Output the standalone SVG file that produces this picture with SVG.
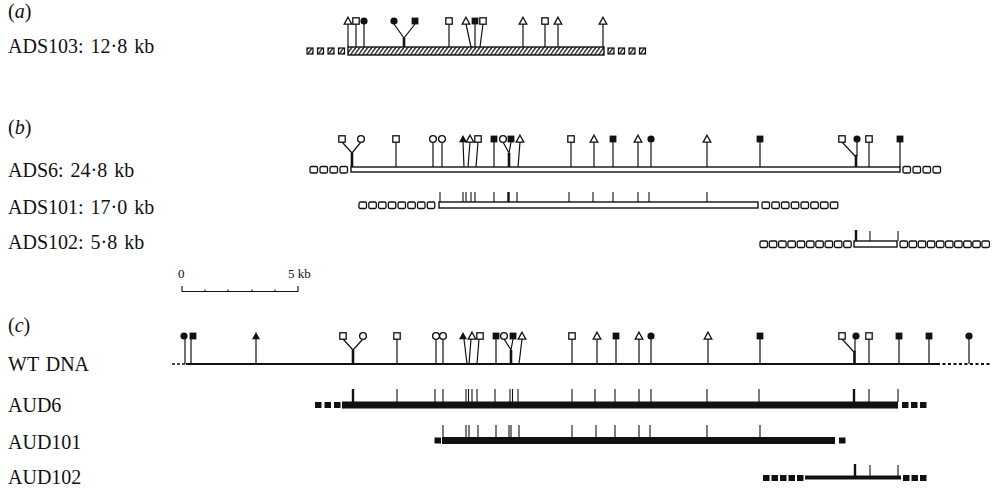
<svg xmlns="http://www.w3.org/2000/svg" xmlns:xlink="http://www.w3.org/1999/xlink" width="992" height="489" viewBox="0 0 992 489">
<style>
text{font-family:"Liberation Serif","Times New Roman",serif;fill:#111;font-size:20px;word-spacing:2px}
.it{font-style:italic}
.sm{font-size:13px;word-spacing:0}
.st{stroke:#111;stroke-width:1.2;fill:none}
.th{stroke:#111;stroke-width:2.6;fill:none}
.tk{stroke:#111;stroke-width:1.1}
.tkb{stroke:#111;stroke-width:2.4}
.ob{fill:#fff;stroke:#111;stroke-width:1.4}
.hb{fill:url(#hatch);stroke:#111;stroke-width:1.4}
.fsq{fill:#111}
</style>
<defs>
<pattern id="hatch" patternUnits="userSpaceOnUse" width="4" height="8" patternTransform="skewX(-35)">
<rect width="4" height="8" fill="#fff"/>
<line x1="1" y1="0" x2="1" y2="8" stroke="#111" stroke-width="1.6"/>
</pattern>
<g id="sqO"><rect x="-3.2" y="-3.2" width="6.4" height="6.4" fill="#fff" stroke="#111" stroke-width="1.3"/></g>
<g id="sqF"><rect x="-3.4" y="-3.4" width="6.8" height="6.8" fill="#111"/></g>
<g id="ciO"><circle r="3.4" fill="#fff" stroke="#111" stroke-width="1.3"/></g>
<g id="ciF"><circle r="3.6" fill="#111"/></g>
<g id="trO"><polygon points="0,-3.8 3.8,3.1 -3.8,3.1" fill="#fff" stroke="#111" stroke-width="1.3"/></g>
<g id="trF"><polygon points="0,-4 4,3.3 -4,3.3" fill="#111"/></g>
<g id="hsq"><rect x="0" y="0" width="6" height="6" fill="url(#hatch)" stroke="#111" stroke-width="1.2"/></g>
<g id="oq"><rect x="0" y="0" width="7.5" height="6.5" rx="1.5" fill="#fff" stroke="#111" stroke-width="1.3"/></g>
<g id="fq"><rect x="0" y="0" width="6.5" height="6" fill="#111"/></g>
</defs>

<g id="labels">
<text x="8" y="18"><tspan>(</tspan><tspan class="it">a</tspan><tspan>)</tspan></text>
<text x="8" y="53">ADS103: 12·8 kb</text>
<text x="8" y="134"><tspan>(</tspan><tspan class="it">b</tspan><tspan>)</tspan></text>
<text x="8" y="177">ADS6: 24·8 kb</text>
<text x="8" y="214">ADS101: 17·0 kb</text>
<text x="8" y="249">ADS102: 5·8 kb</text>
<text x="8" y="332"><tspan>(</tspan><tspan class="it">c</tspan><tspan>)</tspan></text>
<text x="8" y="371">WT DNA</text>
<text x="8" y="412">AUD6</text>
<text x="8" y="449">AUD101</text>
<text x="8" y="484">AUD102</text>
</g>

<g id="ADS103">
<use href="#hsq" x="307" y="48"/><use href="#hsq" x="317.5" y="48"/><use href="#hsq" x="328" y="48"/><use href="#hsq" x="338.5" y="48"/>
<rect class="hb" x="348" y="47" width="256" height="8"/>
<use href="#hsq" x="608" y="48"/><use href="#hsq" x="618.5" y="48"/><use href="#hsq" x="629" y="48"/><use href="#hsq" x="639.5" y="48"/>
</g>
<g id="connectors-a">
<line class="st" x1="348" y1="24" x2="348" y2="47"/>
<line class="st" x1="356" y1="24" x2="356" y2="47"/>
<line class="st" x1="364" y1="24" x2="364" y2="47"/>
<polyline class="st" points="394,24 404,38 415,24"/>
<line class="th" x1="404" y1="38" x2="404" y2="47"/>
<line class="st" x1="449" y1="24" x2="449" y2="47"/>
<line class="st" x1="466" y1="24" x2="471" y2="47"/>
<line class="st" x1="475" y1="24" x2="475" y2="47"/>
<line class="st" x1="483" y1="24" x2="480" y2="47"/>
<line class="st" x1="523" y1="24" x2="523" y2="47"/>
<line class="st" x1="545" y1="24" x2="545" y2="47"/>
<line class="st" x1="558" y1="24" x2="558" y2="47"/>
<line class="st" x1="603" y1="24" x2="603" y2="47"/>
</g>
<g id="sites-a">
<use href="#trO" x="348" y="21"/><use href="#sqO" x="356" y="21"/><use href="#ciF" x="364" y="21"/>
<use href="#ciF" x="394" y="21"/><use href="#sqF" x="415" y="21"/>
<use href="#sqO" x="449" y="21"/><use href="#trO" x="466" y="21"/><use href="#sqF" x="475" y="21"/><use href="#sqO" x="483" y="21"/>
<use href="#trO" x="523" y="21"/><use href="#sqO" x="545" y="21"/><use href="#trO" x="558" y="21"/><use href="#trO" x="603" y="21"/>
</g>

<g id="ADS6">
<use href="#oq" x="310" y="166.5"/><use href="#oq" x="320" y="166.5"/><use href="#oq" x="330" y="166.5"/><use href="#oq" x="340" y="166.5"/>
<rect class="ob" x="351" y="167" width="549" height="5"/>
<use href="#oq" x="903" y="166.5"/><use href="#oq" x="913" y="166.5"/><use href="#oq" x="923" y="166.5"/><use href="#oq" x="933" y="166.5"/>
</g>
<g id="connectors-b">
<polyline class="st" points="342,142 352,153 361,142"/>
<line class="th" x1="352" y1="153" x2="352" y2="167"/>
<line class="st" x1="396" y1="142" x2="396" y2="167"/>
<line class="st" x1="433" y1="142" x2="433" y2="167"/>
<line class="st" x1="442" y1="142" x2="442" y2="167"/>
<line class="st" x1="463" y1="142" x2="464" y2="167"/>
<line class="st" x1="470" y1="142" x2="468" y2="167"/>
<line class="st" x1="478" y1="142" x2="476" y2="167"/>
<line class="st" x1="494" y1="142" x2="494" y2="167"/>
<polyline class="st" points="503,142 509,153 511,142"/>
<line class="th" x1="509" y1="153" x2="509" y2="167"/>
<line class="st" x1="520" y1="142" x2="518" y2="167"/>
<line class="st" x1="571" y1="142" x2="571" y2="167"/>
<line class="st" x1="594" y1="142" x2="594" y2="167"/>
<line class="st" x1="613" y1="142" x2="613" y2="167"/>
<line class="st" x1="638" y1="142" x2="638" y2="167"/>
<line class="st" x1="651" y1="142" x2="651" y2="167"/>
<line class="st" x1="707" y1="142" x2="707" y2="167"/>
<line class="st" x1="760" y1="142" x2="760" y2="167"/>
<line class="st" x1="842" y1="142" x2="855" y2="156"/>
<line class="st" x1="857" y1="142" x2="857" y2="156"/>
<line class="th" x1="856" y1="155" x2="856" y2="167"/>
<line class="st" x1="869" y1="142" x2="869" y2="167"/>
<line class="st" x1="900" y1="142" x2="900" y2="167"/>
</g>
<g id="sites-b">
<use href="#sqO" x="342" y="139"/><use href="#ciO" x="361" y="139"/>
<use href="#sqO" x="396" y="139"/><use href="#ciO" x="433" y="139"/><use href="#ciO" x="442" y="139"/>
<use href="#trF" x="463" y="139"/><use href="#trO" x="470" y="139"/><use href="#sqO" x="478" y="139"/>
<use href="#sqF" x="494" y="139"/><use href="#ciO" x="503" y="139"/><use href="#sqF" x="511" y="139"/><use href="#trO" x="520" y="139"/>
<use href="#sqO" x="571" y="139"/><use href="#trO" x="594" y="139"/><use href="#sqF" x="613" y="139"/>
<use href="#trO" x="638" y="139"/><use href="#ciF" x="651" y="139"/><use href="#trO" x="707" y="139"/><use href="#sqF" x="760" y="139"/>
<use href="#sqO" x="842" y="139"/><use href="#ciF" x="857" y="139"/><use href="#sqO" x="869" y="139"/><use href="#sqF" x="900" y="139"/>
</g>

<g id="ADS101">
<use href="#oq" x="359" y="202"/><use href="#oq" x="368.8" y="202"/><use href="#oq" x="378.5" y="202"/><use href="#oq" x="388.3" y="202"/>
<use href="#oq" x="398" y="202"/><use href="#oq" x="407.8" y="202"/><use href="#oq" x="417.5" y="202"/><use href="#oq" x="427.3" y="202"/>
<rect class="ob" x="439" y="202" width="319" height="6"/>
<use href="#oq" x="762" y="202"/><use href="#oq" x="771.8" y="202"/><use href="#oq" x="781.5" y="202"/><use href="#oq" x="791.3" y="202"/>
<use href="#oq" x="801" y="202"/><use href="#oq" x="810.8" y="202"/><use href="#oq" x="820.5" y="202"/><use href="#oq" x="830.3" y="202"/>
<g class="tk">
<line x1="440" y1="192" x2="440" y2="202"/><line x1="463" y1="192" x2="463" y2="202"/><line x1="466" y1="192" x2="466" y2="202"/>
<line x1="471" y1="192" x2="471" y2="202"/><line x1="475" y1="192" x2="475" y2="202"/><line x1="494" y1="192" x2="494" y2="202"/>
<line x1="517" y1="192" x2="517" y2="202"/><line x1="569" y1="192" x2="569" y2="202"/><line x1="593" y1="192" x2="593" y2="202"/>
<line x1="613" y1="192" x2="613" y2="202"/><line x1="638" y1="192" x2="638" y2="202"/><line x1="649" y1="192" x2="649" y2="202"/>
<line x1="707" y1="192" x2="707" y2="202"/>
</g>
<line class="tkb" x1="508.5" y1="192" x2="508.5" y2="202"/>
</g>

<g id="ADS102">
<use href="#oq" x="760" y="241"/><use href="#oq" x="769.3" y="241"/><use href="#oq" x="778.6" y="241"/><use href="#oq" x="787.9" y="241"/><use href="#oq" x="797.2" y="241"/>
<use href="#oq" x="806.5" y="241"/><use href="#oq" x="815.8" y="241"/><use href="#oq" x="825.1" y="241"/><use href="#oq" x="834.4" y="241"/><use href="#oq" x="843.7" y="241"/>
<rect class="ob" x="854" y="241" width="43" height="6"/>
<use href="#oq" x="900" y="241"/><use href="#oq" x="909.1" y="241"/><use href="#oq" x="918.2" y="241"/><use href="#oq" x="927.3" y="241"/><use href="#oq" x="936.4" y="241"/>
<use href="#oq" x="945.5" y="241"/><use href="#oq" x="954.6" y="241"/><use href="#oq" x="963.7" y="241"/><use href="#oq" x="972.8" y="241"/><use href="#oq" x="981.9" y="241"/>
<line class="tkb" x1="856" y1="230" x2="856" y2="241"/>
<line class="tk" x1="870" y1="231" x2="870" y2="241"/>
<line class="tk" x1="898" y1="231" x2="898" y2="241"/>
</g>

<g id="scale">
<text class="sm" x="178" y="278">0</text>
<text class="sm" x="288" y="278">5 kb</text>
<line class="tk" x1="182" y1="291.5" x2="298" y2="291.5"/>
<line class="tk" x1="182" y1="286" x2="182" y2="292"/>
<line class="tk" x1="298" y1="286" x2="298" y2="292"/>
<line class="tk" x1="205" y1="289.5" x2="205" y2="292"/>
<line class="tk" x1="228" y1="289.5" x2="228" y2="292"/>
<line class="tk" x1="252" y1="289.5" x2="252" y2="292"/>
<line class="tk" x1="275" y1="289.5" x2="275" y2="292"/>
</g>

<g id="WT">
<line x1="172" y1="364" x2="186" y2="364" stroke="#111" stroke-width="1.6" stroke-dasharray="3,2"/>
<line x1="186" y1="364" x2="937" y2="364" stroke="#111" stroke-width="2"/>
<line x1="937" y1="364" x2="991" y2="364" stroke="#111" stroke-width="1.8" stroke-dasharray="3,2.5"/>
</g>
<g id="connectors-c">
<line class="st" x1="185" y1="339" x2="185" y2="364"/>
<line class="st" x1="191" y1="339" x2="191" y2="364"/>
<line class="st" x1="256" y1="339" x2="256" y2="364"/>
<polyline class="st" points="343,339 353,350 363,339"/>
<line class="th" x1="353" y1="350" x2="353" y2="364"/>
<line class="st" x1="397" y1="339" x2="397" y2="364"/>
<line class="st" x1="436" y1="339" x2="436" y2="364"/>
<line class="st" x1="443" y1="339" x2="443" y2="364"/>
<line class="st" x1="464" y1="339" x2="467" y2="364"/>
<line class="st" x1="471" y1="339" x2="469" y2="364"/>
<line class="st" x1="479" y1="339" x2="477" y2="364"/>
<line class="st" x1="496" y1="339" x2="496" y2="364"/>
<polyline class="st" points="504,339 511,350 513,339"/>
<line class="th" x1="511" y1="350" x2="511" y2="364"/>
<line class="st" x1="522" y1="339" x2="519" y2="364"/>
<line class="st" x1="572" y1="339" x2="572" y2="364"/>
<line class="st" x1="597" y1="339" x2="597" y2="364"/>
<line class="st" x1="616" y1="339" x2="616" y2="364"/>
<line class="st" x1="639" y1="339" x2="639" y2="364"/>
<line class="st" x1="651" y1="339" x2="651" y2="364"/>
<line class="st" x1="708" y1="339" x2="708" y2="364"/>
<line class="st" x1="760" y1="339" x2="760" y2="364"/>
<line class="st" x1="842" y1="339" x2="854" y2="352"/>
<line class="st" x1="855" y1="339" x2="855" y2="352"/>
<line class="th" x1="854.5" y1="351" x2="854.5" y2="364"/>
<line class="st" x1="869" y1="339" x2="869" y2="364"/>
<line class="st" x1="899" y1="339" x2="899" y2="364"/>
<line class="st" x1="929" y1="339" x2="929" y2="364"/>
<line class="st" x1="969" y1="339" x2="969" y2="364"/>
</g>
<g id="sites-c">
<use href="#ciF" x="184" y="336"/><use href="#sqF" x="193" y="336"/><use href="#trF" x="256" y="336"/>
<use href="#sqO" x="343" y="336"/><use href="#ciO" x="363" y="336"/><use href="#sqO" x="397" y="336"/>
<use href="#ciO" x="436" y="336"/><use href="#ciO" x="443" y="336"/>
<use href="#trF" x="463" y="336"/><use href="#trO" x="472" y="336"/><use href="#sqO" x="480" y="336"/>
<use href="#sqF" x="496" y="336"/><use href="#ciO" x="504" y="336"/><use href="#sqF" x="513" y="336"/><use href="#trO" x="522" y="336"/>
<use href="#sqO" x="572" y="336"/><use href="#trO" x="597" y="336"/><use href="#sqF" x="616" y="336"/>
<use href="#trO" x="639" y="336"/><use href="#ciF" x="651" y="336"/><use href="#trO" x="708" y="336"/><use href="#sqF" x="760" y="336"/>
<use href="#sqO" x="842" y="336"/><use href="#ciF" x="856" y="336"/><use href="#sqO" x="869" y="336"/>
<use href="#sqF" x="899" y="336"/><use href="#sqF" x="929" y="336"/><use href="#ciF" x="969" y="336"/>
</g>

<g id="AUD6">
<use href="#fq" x="315" y="402"/><use href="#fq" x="324.5" y="402"/><use href="#fq" x="334" y="402"/>
<rect class="fsq" x="342" y="401.5" width="556" height="7"/>
<use href="#fq" x="902" y="402"/><use href="#fq" x="911" y="402"/><use href="#fq" x="920" y="402"/>
<g class="tk">
<line x1="397" y1="389" x2="397" y2="402"/><line x1="435" y1="389" x2="435" y2="402"/><line x1="443" y1="389" x2="443" y2="402"/>
<line x1="466" y1="389" x2="466" y2="402"/><line x1="468.5" y1="389" x2="468.5" y2="402"/><line x1="472" y1="389" x2="472" y2="402"/>
<line x1="477" y1="389" x2="477" y2="402"/><line x1="495" y1="389" x2="495" y2="402"/><line x1="510" y1="389" x2="510" y2="402"/>
<line x1="512.5" y1="389" x2="512.5" y2="402"/><line x1="518" y1="389" x2="518" y2="402"/><line x1="572" y1="389" x2="572" y2="402"/>
<line x1="595" y1="389" x2="595" y2="402"/><line x1="615" y1="389" x2="615" y2="402"/><line x1="639" y1="389" x2="639" y2="402"/>
<line x1="651" y1="389" x2="651" y2="402"/><line x1="707" y1="389" x2="707" y2="402"/><line x1="759" y1="389" x2="759" y2="402"/>
<line x1="869" y1="389" x2="869" y2="402"/><line x1="898" y1="389" x2="898" y2="402"/>
</g>
<line class="tkb" x1="353" y1="389" x2="353" y2="402"/>
<line class="tkb" x1="854" y1="389" x2="854" y2="402"/>
</g>

<g id="AUD101">
<use href="#fq" x="434.5" y="437.5"/>
<rect class="fsq" x="442" y="437" width="393" height="7"/>
<use href="#fq" x="839" y="437.5"/>
<g class="tk">
<line x1="443" y1="425" x2="443" y2="437"/><line x1="466" y1="425" x2="466" y2="437"/><line x1="469" y1="425" x2="469" y2="437"/>
<line x1="478" y1="425" x2="478" y2="437"/><line x1="496" y1="425" x2="496" y2="437"/><line x1="509" y1="425" x2="509" y2="437"/>
<line x1="511" y1="425" x2="511" y2="437"/><line x1="519" y1="425" x2="519" y2="437"/><line x1="572" y1="425" x2="572" y2="437"/>
<line x1="596" y1="425" x2="596" y2="437"/><line x1="615" y1="425" x2="615" y2="437"/><line x1="639" y1="425" x2="639" y2="437"/>
<line x1="650" y1="425" x2="650" y2="437"/><line x1="707" y1="425" x2="707" y2="437"/><line x1="760" y1="425" x2="760" y2="437"/>
</g>
</g>

<g id="AUD102">
<use href="#fq" x="763" y="475"/><use href="#fq" x="771.5" y="475"/><use href="#fq" x="780" y="475"/><use href="#fq" x="788.5" y="475"/><use href="#fq" x="797" y="475"/>
<rect class="fsq" x="805" y="475.5" width="96" height="4"/>
<use href="#fq" x="903" y="475"/><use href="#fq" x="911.5" y="475"/><use href="#fq" x="920" y="475"/>
<line class="tkb" x1="855" y1="464" x2="855" y2="476"/>
<line class="tk" x1="870" y1="465" x2="870" y2="476"/>
<line class="tk" x1="898" y1="465" x2="898" y2="476"/>
</g>
</svg>
